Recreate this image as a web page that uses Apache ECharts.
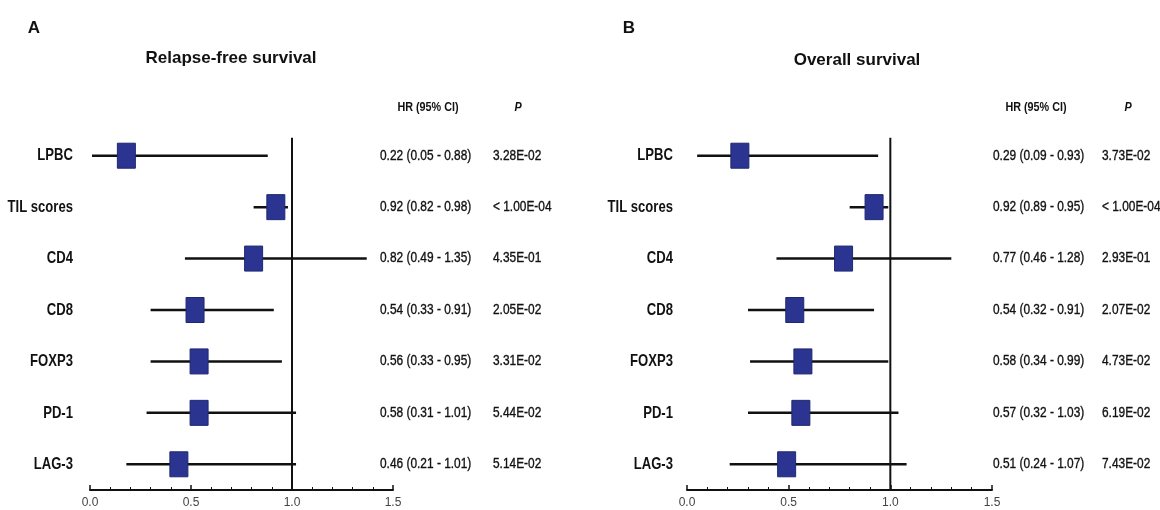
<!DOCTYPE html>
<html>
<head>
<meta charset="utf-8">
<script src="https://cdn.jsdelivr.net/npm/echarts@6/dist/echarts.min.js"></script>
<style>
html,body{margin:0;padding:0;background:#fff;}
#chart{width:1160px;height:510px;}
</style>
</head>
<body>
<div id="chart"></div>
<script>
// ---- data ----
const categories = ['LPBC', 'TIL scores', 'CD4', 'CD8', 'FOXP3', 'PD-1', 'LAG-3'];
const xTicks = [0.0, 0.5, 1.0, 1.5];

// Relapse-free survival (positions as drawn)
const rfsHR   = [0.18, 0.92, 0.81, 0.52, 0.54, 0.54, 0.44];
const rfsLow  = [0.01, 0.81, 0.47, 0.30, 0.30, 0.28, 0.18];
const rfsHigh = [0.88, 0.98, 1.37, 0.91, 0.95, 1.02, 1.02];
const rfsHRText = ['0.22 (0.05 - 0.88)', '0.92 (0.82 - 0.98)', '0.82 (0.49 - 1.35)', '0.54 (0.33 - 0.91)', '0.56 (0.33 - 0.95)', '0.58 (0.31 - 1.01)', '0.46 (0.21 - 1.01)'];
const rfsPText  = ['3.28E-02', '< 1.00E-04', '4.35E-01', '2.05E-02', '3.31E-02', '5.44E-02', '5.14E-02'];

// Overall survival (positions as drawn)
const osHR   = [0.26, 0.92, 0.77, 0.53, 0.57, 0.56, 0.49];
const osLow  = [0.05, 0.80, 0.44, 0.30, 0.31, 0.30, 0.21];
const osHigh = [0.94, 0.99, 1.30, 0.92, 0.99, 1.04, 1.08];
const osHRText = ['0.29 (0.09 - 0.93)', '0.92 (0.89 - 0.95)', '0.77 (0.46 - 1.28)', '0.54 (0.32 - 0.91)', '0.58 (0.34 - 0.99)', '0.57 (0.32 - 1.03)', '0.51 (0.24 - 1.07)'];
const osPText  = ['3.73E-02', '< 1.00E-04', '2.93E-01', '2.07E-02', '4.73E-02', '6.19E-02', '7.43E-02'];

const refValue = 1.0;

// ---- styling ----
const SANS = '"Liberation Sans", Arial, sans-serif';
const BOX = '#2B3591';

const chart = echarts.init(document.getElementById('chart'), null, {renderer: 'canvas'});

function xAxis(gi) {
  return {
    type: 'value', gridIndex: gi, min: 0, max: 1.5, interval: 0.5,
    axisLine: {show: true, lineStyle: {color: '#111', width: 2}},
    axisTick: {show: true, inside: true, length: 5, lineStyle: {color: '#111', width: 1.5}},
    minorTick: {show: true, splitNumber: 5, length: 3, lineStyle: {color: '#111', width: 1}},
    splitLine: {show: false},
    axisLabel: {color: '#444', fontSize: 12, fontFamily: SANS, margin: 7,
      formatter: v => xTicks.indexOf(v) >= 0 ? v.toFixed(1) : ''}
  };
}
function yAxis(gi) {
  return {
    type: 'category', gridIndex: gi, data: categories, inverse: true,
    axisLine: {show: false}, axisTick: {show: false}, splitLine: {show: false},
    axisLabel: {show: false}
  };
}
function ciSeries(gi, low, high, hr) {
  return {
    type: 'custom', xAxisIndex: gi, yAxisIndex: gi, clip: false,
    data: categories.map((c, i) => [low[i], high[i], i, hr[i]]),
    encode: {x: [0, 1, 3], y: 2},
    renderItem: function (params, api) {
      const lo = api.coord([api.value(0), api.value(2)]);
      const hi = api.coord([api.value(1), api.value(2)]);
      const pt = api.coord([api.value(3), api.value(2)]);
      return {
        type: 'group',
        children: [
          {type: 'line', shape: {x1: lo[0], y1: lo[1], x2: hi[0], y2: hi[1]},
           style: {stroke: '#111', lineWidth: 2.5}},
          {type: 'rect', shape: {x: pt[0] - 9, y: pt[1] - 12.5, width: 18, height: 25},
           style: {fill: BOX, stroke: '#1f2770', lineWidth: 1}}
        ]
      };
    },
    z: 3
  };
}
function refSeries(gi) {
  return {
    type: 'custom', xAxisIndex: gi, yAxisIndex: gi, clip: false,
    data: [[refValue, 0]],
    renderItem: function (params, api) {
      const band = api.size([0, 1])[1];
      const top = api.coord([api.value(0), 0]);
      const bot = api.coord([api.value(0), categories.length - 1]);
      return {type: 'line',
        shape: {x1: top[0], y1: top[1] - band * 0.35, x2: bot[0], y2: bot[1] + band / 2},
        style: {stroke: '#111', lineWidth: 2}};
    },
    z: 2
  };
}
function narrowText(x, y, s, font, align, scale, thick) {
  return {type: 'text', x: x, y: y, scaleX: scale,
    style: {x: 0, y: 0, text: s, font: font, fill: '#111', textAlign: align, textVerticalAlign: 'middle',
      stroke: thick ? '#111' : null, lineWidth: thick || 0}};
}
function textSeries(gi, hrText, pText, offLabel, offHR, offP) {
  return {
    type: 'custom', xAxisIndex: gi, yAxisIndex: gi, clip: false,
    data: categories.map((c, i) => [refValue, i]),
    renderItem: function (params, api) {
      const p = api.coord([api.value(0), api.value(1)]);
      const x0 = params.coordSys.x;
      const i = params.dataIndex;
      return {
        type: 'group',
        children: [
          narrowText(x0 - offLabel, p[1], categories[i], 'bold 17px ' + SANS, 'right', 0.77),
          narrowText(x0 + offHR, p[1], hrText[i], '14px ' + SANS, 'left', 0.85, 0.35),
          narrowText(x0 + offP, p[1], pText[i], '14px ' + SANS, 'left', 0.85, 0.35)
        ]
      };
    }
  };
}

function txt(x, y, s, font, scale) {
  return {type: 'text', x: x, y: y, scaleX: scale || 1,
    style: {x: 0, y: 0, text: s, font: font, fill: '#111', textAlign: 'center', textVerticalAlign: 'middle'}};
}

const option = {
  backgroundColor: '#fff',
  animation: false,
  grid: [
    {left: 90, top: 130, width: 303, height: 360, outerBoundsMode: 'none', containLabel: false},
    {left: 687, top: 130, width: 305, height: 360, outerBoundsMode: 'none', containLabel: false}
  ],
  xAxis: [xAxis(0), xAxis(1)],
  yAxis: [yAxis(0), yAxis(1)],
  series: [
    refSeries(0), ciSeries(0, rfsLow, rfsHigh, rfsHR), textSeries(0, rfsHRText, rfsPText, 17, 290, 403),
    refSeries(1), ciSeries(1, osLow, osHigh, osHR), textSeries(1, osHRText, osPText, 14, 306, 415)
  ],
  graphic: [
    txt(34, 28, 'A', 'bold 17px ' + SANS),
    txt(231, 58, 'Relapse-free survival', 'bold 17px ' + SANS),
    txt(428, 107, 'HR (95% CI)', 'bold 13.5px ' + SANS, 0.8),
    txt(518, 107, 'P', 'italic bold 13.5px ' + SANS, 0.8),
    txt(629, 28, 'B', 'bold 17px ' + SANS),
    txt(857, 60, 'Overall survival', 'bold 17px ' + SANS),
    txt(1036, 107, 'HR (95% CI)', 'bold 13.5px ' + SANS, 0.8),
    txt(1128, 107, 'P', 'italic bold 13.5px ' + SANS, 0.8)
  ]
};
chart.setOption(option);
</script>
</body>
</html>
